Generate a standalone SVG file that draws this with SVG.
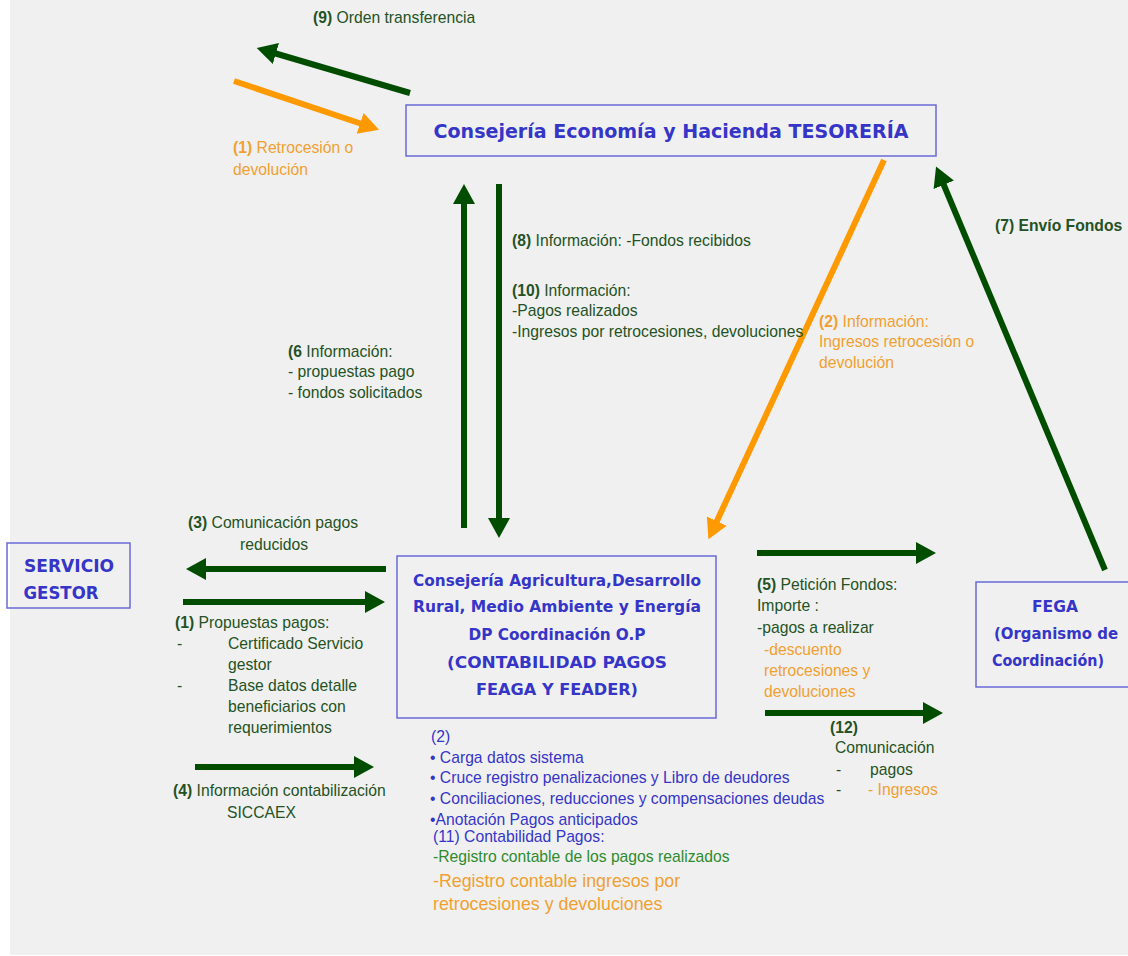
<svg xmlns="http://www.w3.org/2000/svg" width="1128" height="956" viewBox="0 0 1128 956">
<style>
.bg{fill:#f0f0f0}
.box{fill:none;stroke:#6a6ad8;stroke-width:1.5}
.bt{font-family:"Comic Sans MS","DejaVu Sans",sans-serif;font-weight:bold;fill:#3535c8;text-anchor:middle}
.g{stroke:#004d00;stroke-width:6;fill:none}
.o{stroke:#ff9900;stroke-width:6;fill:none}
.t{font-family:"Liberation Sans","DejaVu Sans",sans-serif;font-size:15.7px}
.big{font-size:17.8px}
.tg{fill:#245224}
.to{fill:#f0a030}
.tb{fill:#3535c8}
.tl{fill:#2e8b2e}
.b{font-weight:bold}
</style>
<defs>
<marker id="ag" markerUnits="userSpaceOnUse" markerWidth="22" markerHeight="24" refX="2" refY="12" orient="auto"><path d="M0,1 L20,12 L0,23 Z" fill="#004d00"/></marker>
<marker id="ao" markerUnits="userSpaceOnUse" markerWidth="22" markerHeight="24" refX="2" refY="12" orient="auto"><path d="M0,1 L20,12 L0,23 Z" fill="#ff9900"/></marker>
</defs>
<rect x="0" y="0" width="1128" height="956" fill="#ffffff"/>
<rect class="bg" x="10" y="0" width="1118" height="955"/>

<g id="connectors">
<line class="g" x1="410" y1="93" x2="274" y2="53" marker-end="url(#ag)"/>
<line class="o" x1="234" y1="81" x2="362" y2="124" marker-end="url(#ao)"/>
<line class="g" x1="464" y1="528" x2="464" y2="202" marker-end="url(#ag)"/>
<line class="g" x1="499" y1="184" x2="499" y2="520" marker-end="url(#ag)"/>
<line class="o" x1="884" y1="160" x2="716" y2="523" marker-end="url(#ao)"/>
<line class="g" x1="1105" y1="570" x2="943" y2="183" marker-end="url(#ag)"/>
<line class="g" x1="386" y1="569" x2="204" y2="569" marker-end="url(#ag)"/>
<line class="g" x1="183" y1="602" x2="367" y2="602" marker-end="url(#ag)"/>
<line class="g" x1="195" y1="767" x2="356" y2="767" marker-end="url(#ag)"/>
<line class="g" x1="757" y1="553" x2="918" y2="553" marker-end="url(#ag)"/>
<line class="g" x1="765" y1="713" x2="925" y2="713" marker-end="url(#ag)"/>
</g>

<g id="tesoreria">
<rect class="box" x="406" y="105" width="530" height="51"/>
<text class="bt" x="671" y="138" font-size="20" textLength="475" lengthAdjust="spacingAndGlyphs">Consejería Economía y Hacienda TESORERÍA</text>
</g>

<g id="servicio-gestor">
<rect class="box" x="7" y="543" width="123" height="65"/>
<text class="bt" x="69" y="572" font-size="17" textLength="90" lengthAdjust="spacingAndGlyphs">SERVICIO</text>
<text class="bt" x="61" y="599" font-size="17" textLength="75" lengthAdjust="spacingAndGlyphs">GESTOR</text>
</g>

<g id="agricultura">
<rect class="box" x="397" y="556" width="319" height="162"/>
<text class="bt" x="557" y="586" font-size="16" textLength="288" lengthAdjust="spacingAndGlyphs">Consejería Agricultura,Desarrollo</text>
<text class="bt" x="557" y="612" font-size="16" textLength="288" lengthAdjust="spacingAndGlyphs">Rural, Medio Ambiente y Energía</text>
<text class="bt" x="557" y="640" font-size="16" textLength="177" lengthAdjust="spacingAndGlyphs">DP Coordinación O.P</text>
<text class="bt" x="557" y="668" font-size="16" textLength="220" lengthAdjust="spacingAndGlyphs">(CONTABILIDAD PAGOS</text>
<text class="bt" x="557" y="695" font-size="16" textLength="162" lengthAdjust="spacingAndGlyphs">FEAGA Y FEADER)</text>
</g>

<g id="fega">
<rect class="box" x="976" y="582" width="160" height="105"/>
<text class="bt" x="1055" y="612" font-size="16" textLength="46" lengthAdjust="spacingAndGlyphs">FEGA</text>
<text class="bt" x="1056" y="639" font-size="16" textLength="124" lengthAdjust="spacingAndGlyphs">(Organismo de</text>
<text class="bt" x="1048" y="666" font-size="16" textLength="112" lengthAdjust="spacingAndGlyphs">Coordinación)</text>
</g>

<g id="labels">
<text class="t tg" x="313" y="23"><tspan class="b">(9)</tspan> Orden transferencia</text>
<text class="t to" x="233" y="153"><tspan class="b">(1)</tspan> Retrocesión o</text>
<text class="t to" x="233" y="175">devolución</text>

<text class="t tg" x="512" y="246"><tspan class="b">(8)</tspan> Información:  -Fondos recibidos</text>
<text class="t tg" x="512" y="296"><tspan class="b">(10)</tspan> Información:</text>
<text class="t tg" x="512" y="316">-Pagos realizados</text>
<text class="t tg" x="512" y="337">-Ingresos por retrocesiones, devoluciones</text>

<text class="t tg" x="288" y="357"><tspan class="b">(6</tspan> Información:</text>
<text class="t tg" x="288" y="377">- propuestas pago</text>
<text class="t tg" x="288" y="398">- fondos solicitados</text>

<text class="t to" x="819" y="327"><tspan class="b">(2)</tspan> Información:</text>
<text class="t to" x="819" y="347">Ingresos retrocesión o</text>
<text class="t to" x="819" y="368">devolución</text>

<text class="t tg b" x="995" y="231">(7) Envío Fondos</text>

<text class="t tg" x="188" y="528"><tspan class="b">(3)</tspan> Comunicación pagos</text>
<text class="t tg" x="240" y="550">reducidos</text>

<text class="t tg" x="175" y="628"><tspan class="b">(1)</tspan> Propuestas pagos:</text>
<text class="t tg" x="177" y="649">-</text>
<text class="t tg" x="228" y="649">Certificado Servicio</text>
<text class="t tg" x="228" y="670">gestor</text>
<text class="t tg" x="177" y="691">-</text>
<text class="t tg" x="228" y="691">Base datos detalle</text>
<text class="t tg" x="228" y="712">beneficiarios con</text>
<text class="t tg" x="228" y="733">requerimientos</text>

<text class="t tg" x="173" y="796"><tspan class="b">(4)</tspan> Información contabilización</text>
<text class="t tg" x="227" y="818">SICCAEX</text>

<text class="t tb" x="431" y="742">(2)</text>
<text class="t tb" x="430" y="763">• Carga datos sistema</text>
<text class="t tb" x="430" y="783">• Cruce registro penalizaciones y Libro de deudores</text>
<text class="t tb" x="430" y="804">• Conciliaciones, reducciones y compensaciones deudas</text>
<text class="t tb" x="430" y="825">•Anotación Pagos anticipados</text>
<text class="t tb" x="433" y="842">(11) Contabilidad Pagos:</text>
<text class="t tl" x="433" y="862">-Registro contable de los pagos realizados</text>
<text class="t big to" x="433" y="887">-Registro contable ingresos por</text>
<text class="t big to" x="433" y="910">retrocesiones y devoluciones</text>

<text class="t tg" x="757" y="590"><tspan class="b">(5)</tspan> Petición Fondos:</text>
<text class="t tg" x="757" y="611">Importe :</text>
<text class="t tg" x="757" y="633">-pagos a realizar</text>
<text class="t to" x="764" y="655">-descuento</text>
<text class="t to" x="764" y="676">retrocesiones y</text>
<text class="t to" x="764" y="697">devoluciones</text>

<text class="t tg b" x="830" y="733">(12)</text>
<text class="t tg" x="835" y="753">Comunicación</text>
<text class="t tg" x="836" y="775">-</text>
<text class="t tg" x="870" y="775">pagos</text>
<text class="t tg" x="836" y="795">-</text>
<text class="t to" x="868" y="795">- Ingresos</text>
</g>
</svg>
